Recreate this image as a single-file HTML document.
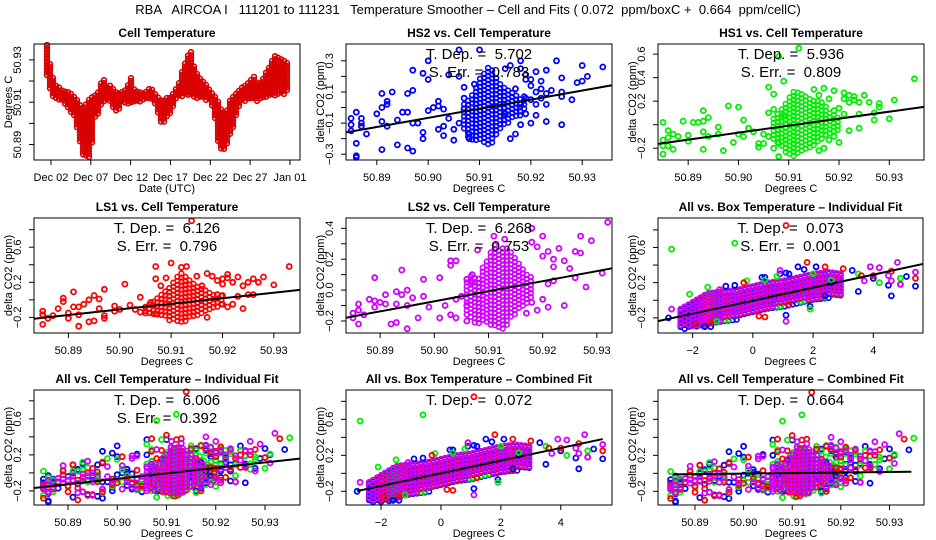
<!DOCTYPE html>
<html><head><meta charset="utf-8"><style>
html,body{margin:0;padding:0;background:#fff;}
svg{display:block;font-family:"Liberation Sans",sans-serif;}
text{white-space:pre;}
</style></head><body>
<svg id="chart" width="936" height="540" viewBox="0 0 936 540" xmlns="http://www.w3.org/2000/svg"></svg>
<script>
// ---------- DATA ----------
const cellDays = [0.5,1,1.5,2,2.5,3,3.5,4,4.5,5,5.5,6,6.5,7,7.5,8,8.5,9,9.5,10,10.5,11,11.5,12,12.5,13,13.5,14,14.5,15,15.5,16,16.5,17,17.5,18,18.5,19,19.5,20,20.5,21,21.5,22,22.5,23,23.5,24,24.5,25,25.5,26,26.5,27,27.5,28,28.5,29,29.5,30,30.5,31];
const cellLo = [50.922,50.913,50.911,50.91,50.91,50.908,50.905,50.903,50.893,50.885,50.884,50.884,50.903,50.905,50.91,50.91,50.91,50.905,50.906,50.91,50.909,50.91,50.91,50.91,50.91,50.911,50.911,50.91,50.904,50.898,50.903,50.905,50.91,50.912,50.913,50.913,50.914,50.912,50.912,50.912,50.911,50.91,50.905,50.89,50.887,50.888,50.894,50.9,50.907,50.91,50.91,50.911,50.911,50.91,50.912,50.912,50.913,50.913,50.914,50.913,50.914,50.916];
const cellHi = [50.937,50.925,50.918,50.917,50.915,50.915,50.914,50.912,50.91,50.905,50.91,50.912,50.913,50.915,50.922,50.917,50.918,50.915,50.914,50.915,50.916,50.922,50.915,50.915,50.914,50.915,50.917,50.914,50.912,50.91,50.912,50.912,50.915,50.918,50.925,50.93,50.935,50.926,50.922,50.92,50.918,50.915,50.913,50.91,50.905,50.905,50.911,50.913,50.915,50.917,50.918,50.92,50.922,50.918,50.92,50.924,50.927,50.932,50.931,50.93,50.929,50.927];
const dateTickDays = [1,6,11,16,21,26,31];
const dateTickLabels = ["Dec 02","Dec 07","Dec 12","Dec 17","Dec 22","Dec 27","Jan 01"];

const hs2X = [50.885,50.885,50.885,50.886,50.886,50.886,50.886,50.887,50.887,50.887,50.888,50.89,50.891,50.891,50.891,50.891,50.892,50.892,50.892,50.893,50.894,50.894,50.895,50.896,50.896,50.896,50.897,50.897,50.897,50.897,50.898,50.899,50.899,50.899,50.9,50.9,50.9,50.901,50.902,50.902,50.902,50.903,50.903,50.903,50.904,50.904,50.905,50.905,50.906,50.906,50.906,50.907,50.907,50.907,50.908,50.908,50.909,50.91,50.915,50.916,50.917,50.918,50.918,50.919,50.919,50.92,50.921,50.921,50.922,50.923,50.923,50.923,50.923,50.92,50.919,50.918,50.917,50.916,50.924,50.925,50.926,50.926,50.926,50.926,50.928,50.929,50.93,50.93,50.931,50.934,50.919,50.92,50.921,50.922,50.921,50.922,50.92,50.918,50.915];
const hs2Y = [-0.07,-0.11,-0.15,-0.03,-0.23,-0.31,-0.32,-0.07,-0.1,-0.12,-0.17,-0.04,0.09,0,-0.09,-0.27,0.02,0.04,-0.12,0.1,-0.08,-0.24,-0.03,-0.03,0.09,-0.26,0.11,0.24,-0.1,-0.28,-0.1,0.22,-0.16,-0.2,0.3,0.18,-0.02,0,0.01,0.04,-0.14,-0.01,-0.12,-0.18,0.21,-0.07,-0.14,-0.21,0.2,0.37,-0.1,0.13,0.06,-0.01,-0.17,-0.2,0.15,0.37,0.25,0.27,0.12,0.25,0.3,0.21,0.18,0.18,0.1,0.23,0.17,0.24,0.09,0.02,-0.09,-0.1,-0.04,-0.11,-0.17,-0.2,0.11,0.3,0.19,0.1,0.07,-0.11,0.05,0.16,0.17,0.27,0.2,0.26,0.06,0.05,0.02,0.06,-0.05,0.12,0.14,0.02,-0.04];
const hs2CoreX = [50.907,50.908,50.909,50.910,50.911,50.912,50.913,50.914,50.915,50.916,50.917,50.918,50.919];
const hs2CoreLo = [-0.15,-0.2,-0.22,-0.2,-0.25,-0.26,-0.2,-0.15,-0.12,-0.1,-0.06,-0.05,-0.02];
const hs2CoreHi = [0.02,0.05,0.1,0.18,0.22,0.27,0.2,0.15,0.12,0.1,0.08,0.05,0.08];

const hs1X = [50.885,50.885,50.885,50.885,50.886,50.886,50.886,50.887,50.887,50.888,50.889,50.89,50.89,50.891,50.892,50.893,50.893,50.893,50.893,50.894,50.894,50.896,50.896,50.897,50.898,50.899,50.9,50.9,50.901,50.901,50.902,50.903,50.904,50.904,50.905,50.905,50.906,50.906,50.906,50.907,50.907,50.907,50.908,50.908,50.908,50.909,50.909,50.912,50.915,50.916,50.917,50.918,50.919,50.919,50.92,50.921,50.921,50.922,50.922,50.923,50.923,50.924,50.924,50.925,50.926,50.927,50.927,50.928,50.928,50.93,50.931,50.935,50.92,50.919,50.918,50.921,50.922,50.924,50.917,50.916];
const hs1Y = [0.02,-0.13,-0.18,-0.25,-0.11,-0.18,-0.05,-0.08,-0.21,-0.1,0.03,-0.09,-0.14,0.02,0.02,0.12,0.03,-0.06,-0.21,0.06,-0.1,-0.02,-0.08,-0.22,0.16,-0.15,0.15,-0.08,-0.1,0.04,-0.03,-0.06,-0.16,-0.19,-0.08,-0.16,0.32,0.1,-0.1,0.26,0.13,-0.2,0.58,-0.27,-0.16,0.37,0.08,0.65,0.3,0.25,0.31,0.22,0.29,0.12,0.14,0.27,0.22,0.25,0.19,0.24,0.21,0.19,0.09,0.25,0.19,0.1,0.04,0.18,0.15,0.05,0.21,0.39,-0.15,-0.1,-0.13,0.09,-0.05,-0.03,-0.2,-0.22];
const hs1CoreX = [50.907,50.908,50.909,50.91,50.911,50.912,50.913,50.914,50.915,50.916,50.917,50.918,50.919,50.92];
const hs1CoreLo = [-0.15,-0.18,-0.22,-0.25,-0.27,-0.26,-0.24,-0.2,-0.18,-0.15,-0.12,-0.1,-0.08,-0.05];
const hs1CoreHi = [0.05,0.1,0.15,0.22,0.28,0.27,0.25,0.22,0.2,0.2,0.18,0.1,0.08,0.05];

const ls1X = [50.885,50.885,50.885,50.886,50.887,50.888,50.889,50.889,50.89,50.89,50.891,50.891,50.892,50.892,50.892,50.893,50.894,50.894,50.895,50.895,50.896,50.896,50.897,50.897,50.897,50.899,50.899,50.9,50.901,50.902,50.903,50.904,50.904,50.905,50.906,50.907,50.907,50.907,50.908,50.909,50.91,50.912,50.913,50.914,50.915,50.916,50.917,50.918,50.919,50.92,50.92,50.921,50.921,50.922,50.923,50.924,50.925,50.926,50.926,50.927,50.928,50.93,50.933,50.92,50.922,50.924,50.917,50.923,50.925,50.919,50.92,50.921];
const ls1Y = [-0.13,-0.17,-0.28,-0.21,-0.18,-0.1,-0.02,0.02,-0.15,-0.21,0.09,-0.08,-0.08,-0.17,-0.3,-0.05,-0.25,0,-0.24,0.05,0.01,-0.1,0.12,-0.18,-0.21,-0.07,-0.13,-0.11,0.18,-0.06,-0.11,0.03,-0.14,-0.15,-0.03,0.38,0.24,-0.16,0.16,0.25,0.42,0.37,0.38,0.9,0.27,0.16,0.3,0.27,0.22,0.24,0.18,0.29,0.25,0.2,0.26,0.16,0.2,0.24,0.06,0.2,0.26,0.17,0.38,-0.05,-0.05,-0.1,-0.2,0.04,0.06,0.06,0.05,-0.08];
const ls1CoreX = [50.905,50.906,50.907,50.908,50.909,50.91,50.911,50.912,50.913,50.914,50.915,50.916,50.917,50.918,50.919,50.92];
const ls1CoreLo = [-0.15,-0.16,-0.18,-0.2,-0.22,-0.25,-0.27,-0.26,-0.24,-0.2,-0.18,-0.16,-0.14,-0.1,-0.12,-0.08];
const ls1CoreHi = [-0.08,-0.05,0,0.05,0.1,0.15,0.25,0.3,0.25,0.2,0.15,0.12,0.1,0.05,0.06,0.04];

const ls2X = [50.885,50.885,50.886,50.886,50.886,50.887,50.888,50.889,50.889,50.889,50.89,50.891,50.891,50.892,50.893,50.893,50.893,50.894,50.894,50.895,50.895,50.895,50.896,50.897,50.898,50.898,50.899,50.901,50.901,50.902,50.903,50.903,50.903,50.904,50.904,50.904,50.905,50.906,50.906,50.906,50.907,50.907,50.908,50.911,50.913,50.918,50.918,50.919,50.92,50.92,50.921,50.922,50.922,50.923,50.924,50.924,50.925,50.926,50.926,50.927,50.927,50.928,50.929,50.931,50.932,50.919,50.917,50.921,50.92,50.918,50.922,50.921];
const ls2Y = [-0.15,-0.18,-0.09,-0.13,-0.22,-0.16,-0.06,0.08,-0.07,-0.11,-0.08,-0.03,-0.09,-0.22,-0.21,-0.01,-0.09,0.13,-0.03,0,-0.1,-0.25,-0.05,-0.18,0.07,-0.04,-0.11,0.08,-0.18,-0.1,0.19,0.16,-0.16,0.19,-0.06,-0.18,-0.04,0.07,-0.1,-0.2,0.1,0.05,0.26,0.35,0.33,0.4,0.31,0.28,0.35,0.22,0.25,0.2,0.15,0.27,0.19,-0.1,0.14,0.25,0.08,0.35,0.24,0.02,0.32,0.11,0.44,-0.13,-0.15,-0.11,-0.06,-0.08,0.06,0.04];
const ls2CoreX = [50.906,50.907,50.908,50.909,50.91,50.911,50.912,50.913,50.914,50.915,50.916,50.917,50.918];
const ls2CoreLo = [-0.18,-0.2,-0.22,-0.2,-0.22,-0.24,-0.26,-0.25,-0.2,-0.15,-0.12,-0.1,-0.05];
const ls2CoreHi = [0.05,0.1,0.05,0.15,0.2,0.3,0.25,0.28,0.25,0.2,0.15,0.1,0.08];

const boxBlueX = [-2.8,-1.6,-1.4,-0.9,-0.6,0.3,0.4,0.9,1.1,1.2,1.5,1.7,2.1,2.6,3.3,3.5,4.0,4.5,4.6,5.1,5.4,1.1,1.9,2.4];
const boxBlueY = [-0.2,-0.3,-0.3,0.16,0.17,0.26,0.26,0.3,0.31,0.3,0.38,0.35,0.38,0.2,0.34,0.1,0.25,0.17,0.05,0.27,0.16,-0.17,-0.07,0.05];
const boxGreenX = [-2.7,-0.6,-2.1,-1.5,-0.2,0.4,1.9,2.0,3.5,4.2,4.9,2.6,-1.2,0.8];
const boxGreenY = [0.58,0.65,0.07,0.15,0.22,0.23,-0.1,0.3,0.3,0.2,0.25,0.23,-0.24,0.27];
const boxRedX = [1.1,1.8,2.4,3.0,3.6,4.0,4.6,5.4,4.9,0.2,0.4,-1.9,-1.4,-0.3,1.2];
const boxRedY = [0.85,0.43,0.38,0.36,0.28,0.28,0.33,0.25,0.18,-0.18,-0.19,-0.27,-0.26,0.2,-0.05];
const boxMagX = [-2.7,4.8,4.2,3.9,4.6,5.4,4.9,1.1,3.7,2.9,0.9,-1.1,4.5];
const boxMagY = [-0.1,0.43,0.37,0.38,0.22,0.32,0.18,-0.24,0.22,0.2,0.34,0.12,0.28];
const boxCoreX = [-2.4,-2,-1.5,-1,-0.5,0,0.5,1,1.5,2,2.5,3];
const boxBlueLo = [-0.33,-0.32,-0.3,-0.26,-0.22,-0.16,-0.12,-0.08,-0.04,-0.02,0.02,0.05];
const boxBlueHi = [-0.12,-0.05,0.05,0.08,0.1,0.14,0.18,0.2,0.24,0.28,0.3,0.28];
const boxGreenLo = [-0.3,-0.3,-0.28,-0.24,-0.2,-0.14,-0.1,-0.06,-0.02,0,0.04,0.07];
const boxGreenHi = [-0.1,-0.03,0.06,0.09,0.11,0.15,0.19,0.21,0.25,0.29,0.31,0.29];
const boxRedLo = [-0.3,-0.3,-0.28,-0.23,-0.19,-0.13,-0.09,-0.05,-0.01,0.01,0.04,0.07];
const boxRedHi = [-0.1,-0.03,0.07,0.09,0.11,0.15,0.19,0.21,0.25,0.29,0.31,0.29];
const boxMagLo = [-0.3,-0.3,-0.28,-0.22,-0.18,-0.12,-0.08,-0.04,0.0,0.02,0.05,0.08];
const boxMagHi = [-0.1,-0.02,0.08,0.1,0.12,0.16,0.2,0.22,0.26,0.3,0.32,0.3];

const fitHS2 = [50.884,-0.16,50.9358,0.143];
const fitHS1 = [50.884,-0.163,50.9369,0.152];
const fitLS1 = [50.8833,-0.215,50.9351,0.114];
const fitLS2 = [50.8837,-0.179,50.9328,0.141];
const fitBoxInd = [-3.15,-0.237,5.65,0.413];
const fitCellInd = [50.8831,-0.167,50.9371,0.159];
const fitBoxComb = [-2.8,-0.197,5.4,0.381];
const fitCellComb = [50.8855,-0.011,50.9345,0.018];

const tdepValues = ["5.702","5.936","6.126","6.268","0.073","6.006","0.072","0.664"];
const serrValues = ["0.783","0.809","0.796","0.753","0.001","0.392"];

const cellTempTicks = [50.89,50.9,50.91,50.92,50.93];
const cellTempTickLabels = ["50.89","50.90","50.91","50.92","50.93"];
const boxTempTicks = [-2,0,2,4];
const boxTempTickLabels = ["\u22122","0","2","4"];

// ---------- RENDER ----------
const NS = "http://www.w3.org/2000/svg";
const svg = document.getElementById('chart');
function mk(tag, attrs, parent){
  const e = document.createElementNS(NS, tag);
  for (const k in attrs) e.setAttribute(k, attrs[k]);
  (parent || svg).appendChild(e);
  return e;
}
function txt(str, x, y, opts, parent){
  const t = mk('text', Object.assign({x:x, y:y, 'text-anchor':'middle', 'font-size':11, fill:'#000'}, opts||{}), parent);
  t.textContent = str;
  return t;
}
const COL = {blue:'#0000ff', green:'#00ee00', red:'#ff0000', mag:'#d000ff'};

let clipId = 0;
function makePanel(cfg){
  const g = mk('g', {});
  
  
  const [x0,y0,x1,y1] = cfg.box;
  const sx = v => x0 + (v - cfg.xd[0]) / (cfg.xd[1] - cfg.xd[0]) * (x1 - x0);
  const sy = v => y1 - (v - cfg.yd[0]) / (cfg.yd[1] - cfg.yd[0]) * (y1 - y0);
  const ix = p => cfg.xd[0] + (p - x0) / (x1 - x0) * (cfg.xd[1] - cfg.xd[0]);
  clipId++;
  const cp = mk('clipPath', {id:'cp'+clipId}, g);
  mk('rect', {x:x0-2, y:y0-2, width:x1-x0+4, height:y1-y0+4}, cp);
  const marks = mk('g', {'clip-path':'url(#cp'+clipId+')'}, g);
  
  
  return {g, marks, sx, sy, ix, cfg};
}
function pt(P, x, y, color, parent){
  return mk('circle', {cx:P.sx(x).toFixed(1), cy:P.sy(y).toFixed(1), r:2.5, fill:'none', stroke:color, 'stroke-width':1.8}, parent);
}
function scatter(P, xs, ys, color, name){
  const g = mk('g', {}, P.marks);
  
  
  for (let i = 0; i < xs.length; i++){
    const c = pt(P, xs[i], ys[i], color, g);
    
    
  }
}
function interp(xs, vs, x){
  if (x <= xs[0]) return vs[0];
  for (let i = 1; i < xs.length; i++){
    if (x <= xs[i]){ const t = (x - xs[i-1]) / (xs[i] - xs[i-1]); return vs[i-1] + t * (vs[i] - vs[i-1]); }
  }
  return vs[vs.length-1];
}
function band(P, xs, lo, hi, color, name, step){
  step = step || 4;
  const g = mk('g', {}, P.marks);
  
  
  const pxa = P.sx(xs[0]), pxb = P.sx(xs[xs.length-1]);
  for (let px = pxa; px <= pxb + 0.01; px += step){
    const xv = P.ix(px);
    const ya = P.sy(interp(xs, hi, xv)), yb = P.sy(interp(xs, lo, xv));
    for (let py = ya; py <= yb + 0.01; py += step){
      mk('circle', {cx:px.toFixed(1), cy:py.toFixed(1), r:2.4, fill:'none', stroke:color, 'stroke-width':1.6}, g);
    }
  }
}
function fitLine(P, f, name){
  const l = mk('line', {x1:P.sx(f[0]), y1:P.sy(f[1]), x2:P.sx(f[2]), y2:P.sy(f[3]), stroke:'#000', 'stroke-width':2}, P.marks);
  
  
}
function frame(P){
  const [x0,y0,x1,y1] = P.cfg.box;
  const r = mk('rect', {x:x0, y:y0, width:x1-x0, height:y1-y0, fill:'none', stroke:'#000', 'stroke-width':1}, P.g);
  
  
  const t = txt(P.cfg.title, (x0+x1)/2, y0-7, {'font-size':12, 'font-weight':'bold'}, P.g);
  
  
  const xt = P.cfg.xticks, xl = P.cfg.xlabels;
  for (let i = 0; i < xt.length; i++){
    const px = P.sx(xt[i]);
    const tk = mk('line', {x1:px, y1:y1, x2:px, y2:y1+5, stroke:'#000'}, P.g);
    
    
    const lb = txt(xl[i], px, y1+21, {}, P.g);
    
    
  }
  const xa = txt(P.cfg.xlab, (x0+x1)/2, y1+32, {}, P.g);
  
  
  const yt = P.cfg.yticks, yl = P.cfg.ylabels;
  for (let i = 0; i < yt.length; i++){
    const py = P.sy(yt[i]);
    const tk = mk('line', {x1:x0-5, y1:py, x2:x0, y2:py, stroke:'#000'}, P.g);
    
    
    if (yl[i]){
      const lb = txt(yl[i], 0, 0, {transform:'translate('+(x0-13)+','+py+') rotate(-90)'}, P.g);
      
      
    }
  }
  const ya = txt(P.cfg.ylab, 0, 0, {transform:'translate('+(x0-22)+','+((y0+y1)/2)+') rotate(-90)'}, P.g);
  
  
}
function annot(P, tdep, serr){
  const [x0,y0,x1] = P.cfg.box;
  const a = txt('T. Dep. =  ' + tdep, (x0+x1)/2, y0+15, {'font-size':15}, P.g);
  
  
  if (serr !== undefined){
    const b = txt('S. Err. =  ' + serr, (x0+x1)/2, y0+33, {'font-size':15}, P.g);
    
    
  }
}

const mt = txt('RBA   AIRCOA I   111201 to 111231   Temperature Smoother \u2013 Cell and Fits ( 0.072  ppm/boxC +  0.664  ppm/cellC)', 468, 14, {'font-size':13});



const dcoLab = 'delta CO2 (ppm)';
const yT8 = [-0.2,0,0.2,0.4,0.6,0.8], yL8 = ['\u22120.2','','0.2','','0.6',''];

{
  const P = makePanel({name:'cell-temperature-panel', title:'Cell Temperature', box:[34,44,300,160], xd:[-1.13,32.26], yd:[50.8827,50.9375],
    xticks:dateTickDays, xlabels:dateTickLabels, yticks:[50.89,50.9,50.91,50.92,50.93], ylabels:['50.89','','50.91','','50.93'], xlab:'Date (UTC)', ylab:'Degrees C'});
  band(P, cellDays, cellLo, cellHi, '#d80000', 'cell-temperature-series', 3);
  frame(P);
}
{
  const P = makePanel({name:'hs2-panel', title:'HS2 vs. Cell Temperature', box:[346,44,612,160], xd:[50.884,50.9358], yd:[-0.337,0.408],
    xticks:cellTempTicks, xlabels:cellTempTickLabels, yticks:[-0.3,-0.2,-0.1,0,0.1,0.2,0.3], ylabels:['\u22120.3','','\u22120.1','','0.1','','0.3'], xlab:'Degrees C', ylab:dcoLab});
  band(P, hs2CoreX, hs2CoreLo, hs2CoreHi, COL.blue, 'hs2-core');
  scatter(P, hs2X, hs2Y, COL.blue, 'hs2-points');
  fitLine(P, fitHS2, 'hs2-fit-line');
  frame(P); annot(P, tdepValues[0], serrValues[0]);
}
{
  const P = makePanel({name:'hs1-panel', title:'HS1 vs. Cell Temperature', box:[658,44,924,160], xd:[50.884,50.9369], yd:[-0.3,0.686],
    xticks:cellTempTicks, xlabels:cellTempTickLabels, yticks:[-0.2,0,0.2,0.4,0.6], ylabels:['\u22120.2','','0.2','0.4','0.6'], xlab:'Degrees C', ylab:dcoLab});
  band(P, hs1CoreX, hs1CoreLo, hs1CoreHi, COL.green, 'hs1-core');
  scatter(P, hs1X, hs1Y, COL.green, 'hs1-points');
  fitLine(P, fitHS1, 'hs1-fit-line');
  frame(P); annot(P, tdepValues[1], serrValues[1]);
}
{
  const P = makePanel({name:'ls1-panel', title:'LS1 vs. Cell Temperature', box:[34,218,300,333], xd:[50.8833,50.9351], yd:[-0.378,0.933],
    xticks:cellTempTicks, xlabels:cellTempTickLabels, yticks:yT8, ylabels:yL8, xlab:'Degrees C', ylab:dcoLab});
  band(P, ls1CoreX, ls1CoreLo, ls1CoreHi, COL.red, 'ls1-core');
  scatter(P, ls1X, ls1Y, COL.red, 'ls1-points');
  fitLine(P, fitLS1, 'ls1-fit-line');
  frame(P); annot(P, tdepValues[2], serrValues[2]);
}
{
  const P = makePanel({name:'ls2-panel', title:'LS2 vs. Cell Temperature', box:[346,218,612,333], xd:[50.8837,50.9328], yd:[-0.278,0.467],
    xticks:cellTempTicks, xlabels:cellTempTickLabels, yticks:[-0.2,-0.1,0,0.1,0.2,0.3,0.4], ylabels:['\u22120.2','','0.0','','0.2','','0.4'], xlab:'Degrees C', ylab:dcoLab});
  band(P, ls2CoreX, ls2CoreLo, ls2CoreHi, COL.mag, 'ls2-core');
  scatter(P, ls2X, ls2Y, COL.mag, 'ls2-points');
  fitLine(P, fitLS2, 'ls2-fit-line');
  frame(P); annot(P, tdepValues[3], serrValues[3]);
}
function boxAll(P){
  band(P, boxCoreX, boxBlueLo, boxBlueHi, COL.blue, 'hs2-box-core');
  band(P, boxCoreX, boxGreenLo, boxGreenHi, COL.green, 'hs1-box-core');
  band(P, boxCoreX, boxRedLo, boxRedHi, COL.red, 'ls1-box-core');
  band(P, boxCoreX, boxMagLo, boxMagHi, COL.mag, 'ls2-box-core');
  scatter(P, boxBlueX, boxBlueY, COL.blue, 'hs2-box-points');
  scatter(P, boxGreenX, boxGreenY, COL.green, 'hs1-box-points');
  scatter(P, boxRedX, boxRedY, COL.red, 'ls1-box-points');
  scatter(P, boxMagX, boxMagY, COL.mag, 'ls2-box-points');
}
function cellAll(P){
  band(P, hs2CoreX, hs2CoreLo, hs2CoreHi, COL.blue, 'hs2-core');
  band(P, hs1CoreX, hs1CoreLo, hs1CoreHi, COL.green, 'hs1-core');
  band(P, ls1CoreX, ls1CoreLo, ls1CoreHi, COL.red, 'ls1-core');
  scatter(P, hs2X, hs2Y, COL.blue, 'hs2-points');
  scatter(P, hs1X, hs1Y, COL.green, 'hs1-points');
  scatter(P, ls1X, ls1Y, COL.red, 'ls1-points');
  band(P, ls2CoreX, ls2CoreLo, ls2CoreHi, COL.mag, 'ls2-core');
  scatter(P, ls2X, ls2Y, COL.mag, 'ls2-points');
}
{
  const P = makePanel({name:'all-box-individual-panel', title:'All vs. Box Temperature \u2013 Individual Fit', box:[658,218,923,333], xd:[-3.15,5.65], yd:[-0.372,0.935],
    xticks:boxTempTicks, xlabels:boxTempTickLabels, yticks:yT8, ylabels:yL8, xlab:'Degrees C', ylab:dcoLab});
  boxAll(P);
  fitLine(P, fitBoxInd, 'box-individual-fit-line');
  frame(P); annot(P, tdepValues[4], serrValues[4]);
}
{
  const P = makePanel({name:'all-cell-individual-panel', title:'All vs. Cell Temperature \u2013 Individual Fit', box:[34,390,300,505], xd:[50.8831,50.9371], yd:[-0.356,0.92],
    xticks:cellTempTicks, xlabels:cellTempTickLabels, yticks:yT8, ylabels:yL8, xlab:'Degrees C', ylab:dcoLab});
  cellAll(P);
  fitLine(P, fitCellInd, 'cell-individual-fit-line');
  frame(P); annot(P, tdepValues[5], serrValues[5]);
}
{
  const P = makePanel({name:'all-box-combined-panel', title:'All vs. Box Temperature \u2013 Combined Fit', box:[346,390,612,505], xd:[-3.17,5.71], yd:[-0.352,0.926],
    xticks:boxTempTicks, xlabels:boxTempTickLabels, yticks:yT8, ylabels:yL8, xlab:'Degrees C', ylab:dcoLab});
  boxAll(P);
  fitLine(P, fitBoxComb, 'box-combined-fit-line');
  frame(P); annot(P, tdepValues[6]);
}
{
  const P = makePanel({name:'all-cell-combined-panel', title:'All vs. Cell Temperature \u2013 Combined Fit', box:[658,390,924,505], xd:[50.8824,50.9371], yd:[-0.352,0.926],
    xticks:cellTempTicks, xlabels:cellTempTickLabels, yticks:yT8, ylabels:yL8, xlab:'Degrees C', ylab:dcoLab});
  cellAll(P);
  fitLine(P, fitCellComb, 'cell-combined-fit-line');
  frame(P); annot(P, tdepValues[7]);
}
</script>
</body></html>
